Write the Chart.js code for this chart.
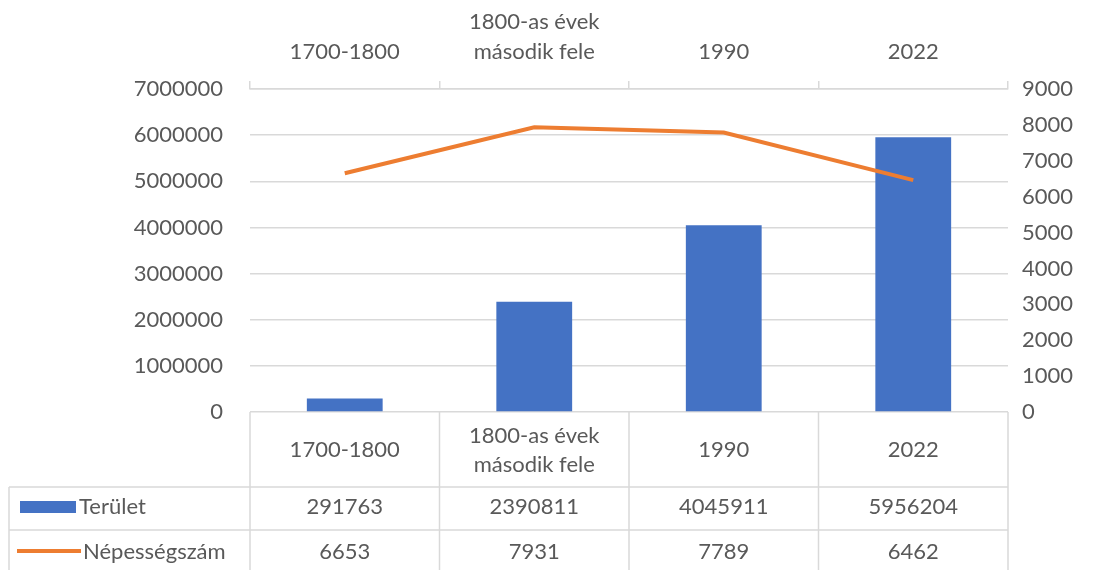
<!DOCTYPE html>
<html>
<head>
<meta charset="utf-8">
<script src="https://cdn.jsdelivr.net/npm/chart.js@4"></script>
<style>
  html, body { margin: 0; background: #fff; }
  #wrap { width: 1094px; height: 570px; }
</style>
</head>
<body>
<div id="wrap"><canvas id="chart"></canvas></div>
<script>
// data
const categories = [['1700-1800'], ['1800-as évek', 'második fele'], ['1990'], ['2022']];
const terulet = [291763, 2390811, 4045911, 5956204];
const nepesseg = [6653, 7931, 7789, 6462];
const leftMax = 7000000, leftStep = 1000000;
const rightMax = 9000, rightStep = 1000;

const textColor = '#595959';
const lineColor = '#d9d9d9';
const font = { family: 'Lato', size: 22, lineHeight: 1.36 };

// data table drawn under the plot
const dataTable = {
  id: 'dataTable',
  afterDraw(chart) {
    const ctx = chart.ctx;
    const xs = chart.scales.x;
    const { left, right, bottom } = chart.chartArea;
    const n = categories.length;
    const w = (right - left) / n;
    const headBottom = bottom + 75, row1 = bottom + 118, row2 = bottom + 162;
    const tableLeft = 9;

    ctx.save();
    ctx.strokeStyle = lineColor;
    ctx.lineWidth = 1.5;
    ctx.beginPath();
    for (let i = 0; i <= n; i++) {
      const x = left + i * w;
      ctx.moveTo(x, bottom); ctx.lineTo(x, row2);
    }
    ctx.moveTo(tableLeft, headBottom); ctx.lineTo(tableLeft, row2);
    [headBottom, row1].forEach(y => { ctx.moveTo(tableLeft, y); ctx.lineTo(right, y); });
    ctx.stroke();

    ctx.fillStyle = textColor;
    ctx.font = `${font.size}px ${font.family}`;
    ctx.textAlign = 'center';
    ctx.textBaseline = 'middle';
    categories.forEach((lines, i) => {
      const cx = xs.getPixelForTick(i);
      const mid = bottom + 38;
      lines.forEach((t, j) => {
        ctx.fillText(t, cx, mid + (j - (lines.length - 1) / 2) * 29);
      });
      ctx.fillText(String(terulet[i]), cx, bottom + 95);
      ctx.fillText(String(nepesseg[i]), cx, bottom + 140);
    });

    // legend keys
    ctx.textAlign = 'left';
    ctx.fillStyle = '#4472C4';
    ctx.fillRect(20, bottom + 89, 56, 12);
    ctx.strokeStyle = '#ED7D31';
    ctx.lineWidth = 4;
    ctx.beginPath();
    ctx.moveTo(17, bottom + 139); ctx.lineTo(81, bottom + 139);
    ctx.stroke();
    ctx.fillStyle = textColor;
    ctx.fillText('Terület', 79, bottom + 95);
    ctx.fillText('Népességszám', 83, bottom + 140);
    ctx.restore();
  }
};

new Chart(document.getElementById('chart'), {
  type: 'bar',
  data: {
    labels: categories,
    datasets: [
      {
        type: 'line',
        label: 'Népességszám',
        data: nepesseg,
        yAxisID: 'y1',
        borderColor: '#ED7D31',
        borderWidth: 4,
        pointRadius: 0,
        tension: 0,
        order: 0
      },
      {
        label: 'Terület',
        data: terulet,
        yAxisID: 'y',
        backgroundColor: '#4472C4',
        barPercentage: 0.4,
        categoryPercentage: 1,
        order: 1
      }
    ]
  },
  options: {
    responsive: true,
    maintainAspectRatio: false,
    animation: false,
    layout: { padding: { top: 0, left: 0, right: 0, bottom: 158 } },
    plugins: {
      legend: { display: false },
      tooltip: { enabled: false }
    },
    scales: {
      x: { display: false, offset: true },
      x2: {
        type: 'category',
        position: 'top',
        labels: categories,
        offset: true,
        grid: { offset: true, drawOnChartArea: false, tickLength: 8, color: lineColor, lineWidth: 1.5 },
        border: { color: lineColor, width: 1.5 },
        ticks: { color: textColor, font, padding: 14, maxRotation: 0 },
        afterFit(s) { s.height = 89; }
      },
      y: {
        position: 'left',
        min: 0,
        max: leftMax,
        ticks: { stepSize: leftStep, color: textColor, font, padding: 27, callback: v => String(v) },
        grid: { color: lineColor, lineWidth: 1.5, drawTicks: false },
        border: { display: false },
        afterFit(s) { s.width = 250; }
      },
      y1: {
        position: 'right',
        min: 0,
        max: rightMax,
        ticks: { stepSize: rightStep, color: textColor, font, padding: 14, callback: v => String(v) },
        grid: { drawOnChartArea: false, drawTicks: false },
        border: { display: false },
        afterFit(s) { s.width = 86; }
      }
    }
  },
  plugins: [dataTable]
});
</script>
</body>
</html>
